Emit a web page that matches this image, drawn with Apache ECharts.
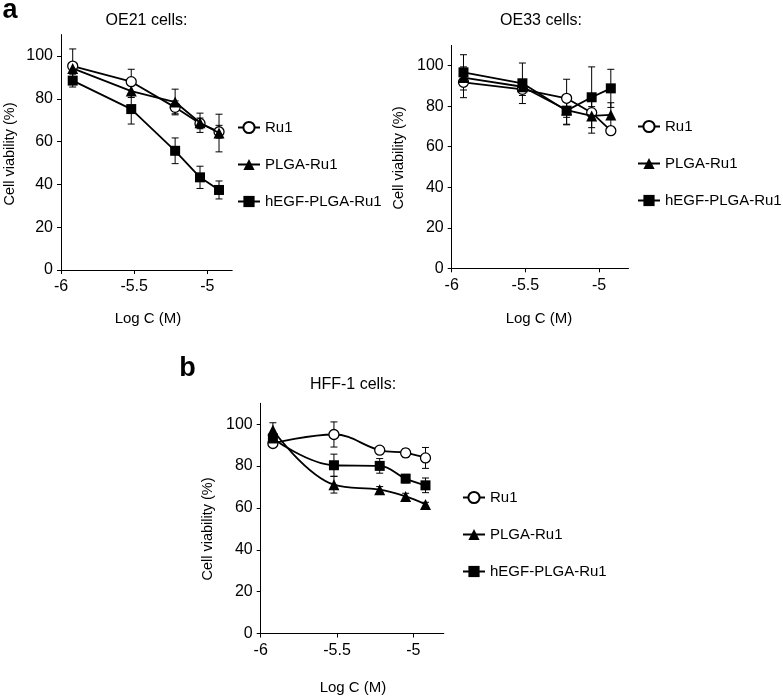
<!DOCTYPE html>
<html>
<head>
<meta charset="utf-8">
<script src="https://cdn.jsdelivr.net/npm/echarts@6/dist/echarts.min.js"></script>
<style>
html,body{margin:0;padding:0;background:#fff;}
#chart{width:783px;height:698px;}
</style>
</head>
<body>
<div id="chart"></div>
<script>
// ---- data ----
const seriesNames = ['Ru1', 'PLGA-Ru1', 'hEGF-PLGA-Ru1'];
const logC = [-5.92, -5.52, -5.22, -5.05, -4.92];
const xTicks = [-6, -5.5, -5];
const yTicks = [0, 20, 40, 60, 80, 100];

const oe21Ru1 = [95.3, 88.0, 76.0, 68.5, 64.6];
const oe21Ru1Err = [8.0, 5.8, 3.0, 2.5, 3.0];
const oe21Plga = [94.2, 83.6, 78.5, 68.8, 64.0];
const oe21PlgaErr = [2.0, 3.0, 6.0, 4.5, 8.8];
const oe21Hegf = [88.5, 75.2, 55.7, 43.3, 37.4];
const oe21HegfErr = [3.0, 7.0, 6.0, 5.2, 4.2];

const oe33Ru1 = [91.8, 88.3, 83.9, 76.8, 67.9];
const oe33Ru1Err = [7.6, 3.0, 9.4, 3.0, 1.0];
const oe33Plga = [94.1, 89.6, 78.1, 75.2, 75.7];
const oe33PlgaErr = [3.0, 3.0, 7.0, 8.5, 6.0];
const oe33Hegf = [96.7, 91.3, 77.8, 84.4, 88.8];
const oe33HegfErr = [8.7, 10.0, 7.0, 15.0, 9.4];

const hffRu1 = [90.8, 95.1, 87.6, 86.3, 83.9];
const hffRu1Err = [1.5, 6.0, 1.5, 2.0, 5.0];
const hffPlga = [97.2, 71.1, 68.7, 65.5, 61.7];
const hffPlgaErr = [3.5, 4.0, 1.5, 1.5, 1.0];
const hffHegf = [93.2, 80.4, 80.1, 74.0, 70.8];
const hffHegfErr = [2.0, 5.3, 3.5, 2.0, 3.5];

// ---- build ----
const FONT = '"Liberation Sans", Arial, sans-serif';
const chart = echarts.init(document.getElementById('chart'), null, {renderer: 'canvas'});

const panels = [
  {grid: {left: 61, top: 34.6, width: 171.2, height: 235.4}, xMax: -4.83, smooth: false,
   vals: [oe21Ru1, oe21Plga, oe21Hegf], errs: [oe21Ru1Err, oe21PlgaErr, oe21HegfErr],
   legend: {left: 237, top: 120}},
  {grid: {left: 451.7, top: 45.4, width: 176.8, height: 222.9}, xMax: -4.8, smooth: false,
   vals: [oe33Ru1, oe33Plga, oe33Hegf], errs: [oe33Ru1Err, oe33PlgaErr, oe33HegfErr],
   legend: {left: 637, top: 119}},
  {grid: {left: 260.7, top: 403.3, width: 183.1, height: 230.2}, xMax: -4.8, smooth: 0.4,
   vals: [hffRu1, hffPlga, hffHegf], errs: [hffRu1Err, hffPlgaErr, hffHegfErr],
   legend: {left: 462, top: 490}}
];

const symbols = [
  {symbol: 'circle', size: 10, fill: '#ffffff'},
  {symbol: 'triangle', size: 11, fill: '#000000'},
  {symbol: 'rect', size: 10, fill: '#000000'}
];

function renderErr(params, api) {
  const x = api.value(0), lo = api.value(1), hi = api.value(2);
  const a = api.coord([x, hi]);
  const b = api.coord([x, lo]);
  const w = 3.5;
  const st = {stroke: '#000', lineWidth: 1};
  return {type: 'group', children: [
    {type: 'line', shape: {x1: a[0], y1: a[1], x2: b[0], y2: b[1]}, style: st},
    {type: 'line', shape: {x1: a[0] - w, y1: a[1], x2: a[0] + w, y2: a[1]}, style: st},
    {type: 'line', shape: {x1: b[0] - w, y1: b[1], x2: b[0] + w, y2: b[1]}, style: st}
  ]};
}

const grids = [], xAxes = [], yAxes = [], series = [], legends = [];
panels.forEach((p, i) => {
  grids.push(Object.assign({containLabel: false}, p.grid));
  xAxes.push({
    type: 'value', gridIndex: i, min: -6, max: p.xMax, interval: 0.5,
    splitLine: {show: false},
    axisLine: {onZero: false, lineStyle: {color: '#000', width: 1}},
    axisTick: {show: true, length: 4, inside: false, customValues: xTicks, lineStyle: {color: '#000'}},
    axisLabel: {customValues: xTicks, margin: 9, color: '#000', fontSize: 16, fontFamily: FONT,
      formatter: v => String(v)}
  });
  yAxes.push({
    type: 'value', gridIndex: i, min: 0, max: 110, interval: 10,
    splitLine: {show: false},
    axisLine: {show: true, onZero: false, lineStyle: {color: '#000', width: 1}},
    axisTick: {show: true, length: 4, customValues: yTicks, lineStyle: {color: '#000'}},
    axisLabel: {customValues: yTicks, margin: 8, color: '#000', fontSize: 16, fontFamily: FONT}
  });
  seriesNames.forEach((name, k) => {
    const vals = p.vals[k], errs = p.errs[k];
    series.push({
      type: 'custom', name: name + ' err ' + i, xAxisIndex: i, yAxisIndex: i, z: 1,
      renderItem: renderErr, silent: true,
      encode: {x: 0, y: [1, 2]},
      data: logC.map((x, j) => [x, vals[j] - errs[j], vals[j] + errs[j]])
    });
    series.push({
      type: 'line', name: name, xAxisIndex: i, yAxisIndex: i, z: 3 + k,
      smooth: p.smooth, animation: false,
      symbol: symbols[k].symbol, symbolSize: symbols[k].size, showSymbol: true,
      lineStyle: {color: '#000', width: 1.8},
      itemStyle: {color: symbols[k].fill, borderColor: '#000', borderWidth: k === 0 ? 1.3 : 0},
      data: logC.map((x, j) => [x, vals[j]])
    });
  });
  legends.push({
    data: seriesNames, orient: 'vertical', left: p.legend.left, top: p.legend.top,
    padding: 0, itemGap: 22, itemWidth: 22, itemHeight: 14, selectedMode: false,
    textStyle: {color: '#000', fontSize: 15, fontFamily: FONT}
  });
});

function txt(x, y, text, size, opts) {
  return Object.assign({
    type: 'text', x: x, y: y, silent: true,
    style: {text: text, fill: '#000', font: (opts && opts.bold ? 'bold ' : '') + size + 'px ' + FONT,
      align: 'center', verticalAlign: 'middle'}
  }, opts && opts.rot ? {rotation: Math.PI / 2} : {});
}

const graphics = [
  txt(10, 11, 'a', 27, {bold: true}),
  txt(187.5, 369, 'b', 27, {bold: true}),
  txt(146.5, 21, 'OE21 cells:', 16),
  txt(541, 21, 'OE33 cells:', 16),
  txt(353, 385, 'HFF-1 cells:', 16),
  txt(10, 154, 'Cell viability (%)', 14.5, {rot: true}),
  txt(399, 158, 'Cell viability (%)', 14.5, {rot: true}),
  txt(207.5, 529, 'Cell viability (%)', 14.5, {rot: true}),
  txt(148, 319, 'Log C (M)', 15),
  txt(539, 319, 'Log C (M)', 15),
  txt(353, 688, 'Log C (M)', 15)
];

chart.setOption({
  animation: false,
  backgroundColor: '#fff',
  grid: grids, xAxis: xAxes, yAxis: yAxes, series: series, legend: legends,
  graphic: graphics
});
</script>
</body>
</html>
